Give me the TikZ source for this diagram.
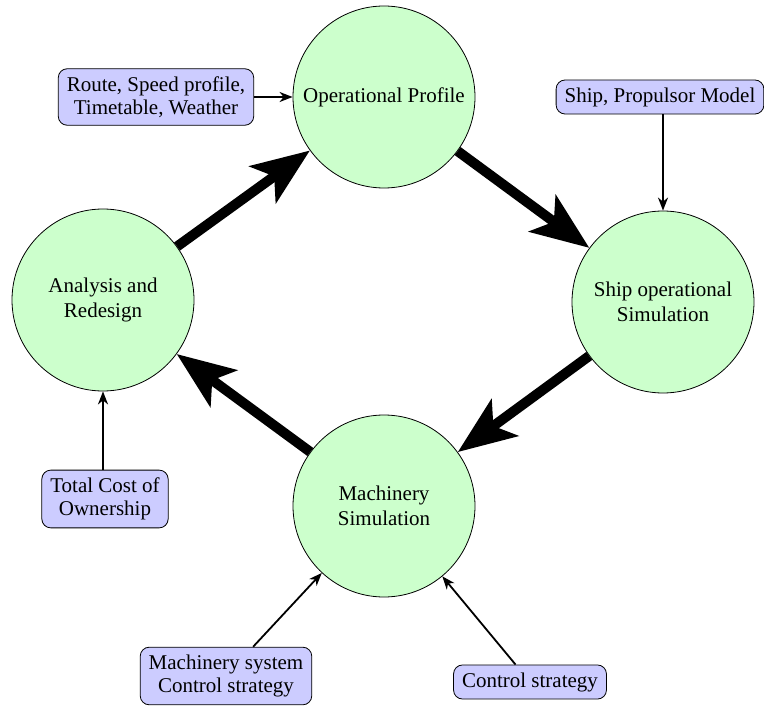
\documentclass[tikz,border=0pt]{standalone}
\usepackage{fontspec}
\setmainfont{Liberation Serif}
\usetikzlibrary{arrows.meta}
\definecolor{circfill}{HTML}{CCFFCC}
\definecolor{boxfill}{HTML}{CCCCFF}
\begin{document}
\begin{tikzpicture}[x=1pt,y=-1pt,
  every node/.style={font=\fontsize{21}{23.5}\selectfont},
  stage/.style={circle,draw=black,line width=0.8pt,fill=circfill,minimum size=182pt,inner sep=0pt,align=center,font=\fontsize{21}{24.5}\selectfont},
  inbox/.style={rounded corners=9pt,draw=black,line width=0.8pt,fill=boxfill,inner xsep=8.5pt,inner ysep=7.5pt,align=center},
  flow/.style={line width=10pt,-{Stealth[length=58pt,width=45pt,inset=14pt]}},
  feed/.style={line width=1.8pt,-{Stealth[length=13pt,width=10pt,inset=4pt]}}]
\useasboundingbox (0,0) rectangle (764,706);
\node[stage] (op) at (384,97) {Operational Profile};
\node[stage] (ship) at (663,302) {Ship operational\\Simulation};
\node[stage] (mach) at (384,506) {Machinery\\Simulation};
\node[stage] (ana) at (103,300) {Analysis and\\Redesign};
\node[inbox] (route) at (156,97) {Route, Speed profile,\\Timetable, Weather};
\node[inbox] (prop) at (660,97) {Ship, Propulsor Model};
\node[inbox] (tco) at (105,499) {Total Cost of\\Ownership};
\node[inbox] (msys) at (226,676) {Machinery system\\Control strategy};
\node[inbox] (ctrl) at (530,682) {Control strategy};
\draw[flow] (ana) -- (op);
\draw[flow] (op) -- (ship);
\draw[flow] (ship) -- (mach);
\draw[flow] (mach) -- (ana);
\draw[feed] (route) -- (op);
\draw[feed] (prop.south -| ship.north) -- (ship.north);
\draw[feed] (tco.north -| ana.south) -- (ana.south);
\draw[feed] (msys) -- (mach);
\draw[feed] (ctrl) -- (mach);
\end{tikzpicture}
\end{document}
